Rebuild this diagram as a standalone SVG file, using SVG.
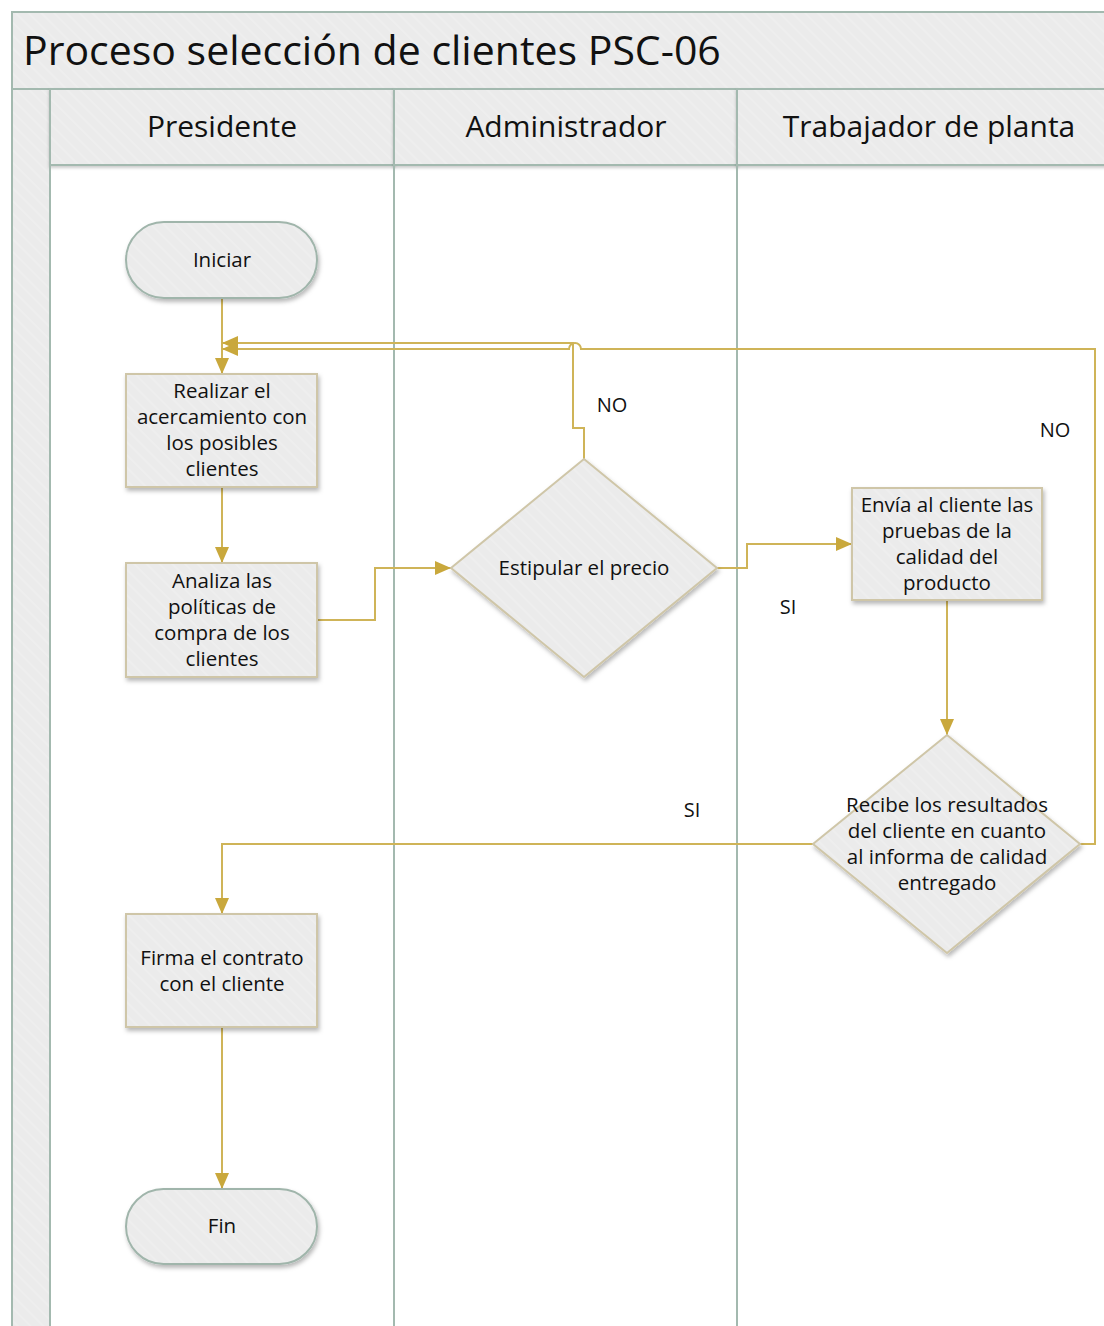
<svg xmlns="http://www.w3.org/2000/svg" width="1104" height="1326" viewBox="0 0 1104 1326">
  <defs>
    <pattern id="hatch" patternUnits="userSpaceOnUse" width="9" height="9" patternTransform="rotate(-45)">
      <rect width="9" height="9" fill="#ebebeb"/>
      <line x1="2" y1="0" x2="2" y2="9" stroke="#f0f0f0" stroke-width="1.5"/>
    </pattern>
    <filter id="shadow" x="-20%" y="-20%" width="140%" height="150%">
      <feDropShadow dx="1.5" dy="3" stdDeviation="2.2" flood-color="#000" flood-opacity="0.28"/>
    </filter>
    <filter id="bandShadow" x="-5%" y="-5%" width="110%" height="140%">
      <feDropShadow dx="0" dy="2" stdDeviation="1.5" flood-color="#000" flood-opacity="0.2"/>
    </filter>
    <marker id="arrow" viewBox="0 0 16 14" refX="16" refY="7" markerWidth="16" markerHeight="14" markerUnits="userSpaceOnUse" orient="auto">
      <path d="M0,0 L16,7 L0,14 Z" fill="#c9a83c"/>
    </marker>
  </defs>
  <style>
    .pool { fill: url(#hatch); stroke: #a3b9af; stroke-width: 2; }
    .lane { fill: none; stroke: #a3b9af; stroke-width: 2; }
    .title { font-family: "Open Sans", "Noto Sans", sans-serif; font-size: 41px; fill: #111; }
    .head { font-family: "Open Sans", "Noto Sans", sans-serif; font-size: 30px; fill: #111; text-anchor: middle; }
    .term { fill: url(#hatch); stroke: #a0b5ab; stroke-width: 2; filter: url(#shadow); }
    .box { fill: url(#hatch); stroke: #cfc6a8; stroke-width: 2; filter: url(#shadow); }
    .lbl { font-family: "Open Sans", "Noto Sans", sans-serif; font-size: 20.5px; fill: #111; text-anchor: middle; }
    .note { font-family: "Open Sans", "Noto Sans", sans-serif; font-size: 20px; fill: #111; text-anchor: middle; }
    .conn { fill: none; stroke: #cfb458; stroke-width: 2; marker-end: url(#arrow); }
  </style>

  <rect width="1104" height="1326" fill="#ffffff"/>

  <!-- pool frame -->
  <g id="pool">
    <rect class="pool" x="12" y="12" width="1110" height="77"/>
    <text class="title" x="23" y="65">Proceso selección de clientes PSC-06</text>
    <rect class="pool" x="12" y="89" width="38" height="1250"/>
  </g>

  <!-- swimlanes -->
  <g id="lanes">
    <rect class="pool" x="50" y="89" width="344" height="76" filter="url(#bandShadow)"/>
    <rect class="pool" x="394" y="89" width="343" height="76" filter="url(#bandShadow)"/>
    <rect class="pool" x="737" y="89" width="385" height="76" filter="url(#bandShadow)"/>
    <line class="lane" x1="50" y1="165" x2="50" y2="1330"/>
    <line class="lane" x1="394" y1="165" x2="394" y2="1330"/>
    <line class="lane" x1="737" y1="165" x2="737" y2="1330"/>
    <text class="head" x="222" y="137">Presidente</text>
    <text class="head" x="566" y="137">Administrador</text>
    <text class="head" x="929" y="137">Trabajador de planta</text>
  </g>

  <!-- connectors -->
  <g id="connectors">
    <path class="conn" d="M222,298 V374"/>
    <path class="conn" d="M584,459 V428 H573 V343 H222"/>
    <path class="conn" d="M1080,844 H1095 V349 H581 A6,6 0 0 0 569,349 H222"/>
    <path class="conn" d="M222,487 V563"/>
    <path class="conn" d="M317,620 H375 V568 H451"/>
    <path class="conn" d="M717,568 H747 V544 H852"/>
    <path class="conn" d="M947,600 V735"/>
    <path class="conn" d="M813,844 H222 V914"/>
    <path class="conn" d="M222,1027 V1189"/>
    <text class="note" x="612" y="412">NO</text>
    <text class="note" x="1055" y="437">NO</text>
    <text class="note" x="788" y="614">SI</text>
    <text class="note" x="692" y="817">SI</text>
  </g>

  <!-- nodes -->
  <g id="n-iniciar">
    <rect class="term" x="126" y="222" width="191" height="76" rx="38"/>
    <text class="lbl" x="222" y="267">Iniciar</text>
  </g>
  <g id="n-realizar">
    <rect class="box" x="126" y="374" width="191" height="113"/>
    <text class="lbl" x="222" y="398">Realizar el</text>
    <text class="lbl" x="222" y="424">acercamiento con</text>
    <text class="lbl" x="222" y="450">los posibles</text>
    <text class="lbl" x="222" y="476">clientes</text>
  </g>
  <g id="n-analiza">
    <rect class="box" x="126" y="563" width="191" height="114"/>
    <text class="lbl" x="222" y="588">Analiza las</text>
    <text class="lbl" x="222" y="614">políticas de</text>
    <text class="lbl" x="222" y="640">compra de los</text>
    <text class="lbl" x="222" y="666">clientes</text>
  </g>
  <g id="n-estipular">
    <polygon class="box" points="584,459 717,568 584,677 451,568"/>
    <text class="lbl" x="584" y="575">Estipular el precio</text>
  </g>
  <g id="n-envia">
    <rect class="box" x="852" y="488" width="190" height="112"/>
    <text class="lbl" x="947" y="512">Envía al cliente las</text>
    <text class="lbl" x="947" y="538">pruebas de la</text>
    <text class="lbl" x="947" y="564">calidad del</text>
    <text class="lbl" x="947" y="590">producto</text>
  </g>
  <g id="n-recibe">
    <polygon class="box" points="947,735 1080,844 947,953 813,844"/>
    <text class="lbl" x="947" y="812">Recibe los resultados</text>
    <text class="lbl" x="947" y="838">del cliente en cuanto</text>
    <text class="lbl" x="947" y="864">al informa de calidad</text>
    <text class="lbl" x="947" y="890">entregado</text>
  </g>
  <g id="n-firma">
    <rect class="box" x="126" y="914" width="191" height="113"/>
    <text class="lbl" x="222" y="965">Firma el contrato</text>
    <text class="lbl" x="222" y="991">con el cliente</text>
  </g>
  <g id="n-fin">
    <rect class="term" x="126" y="1189" width="191" height="75" rx="37.5"/>
    <text class="lbl" x="222" y="1233">Fin</text>
  </g>
</svg>
